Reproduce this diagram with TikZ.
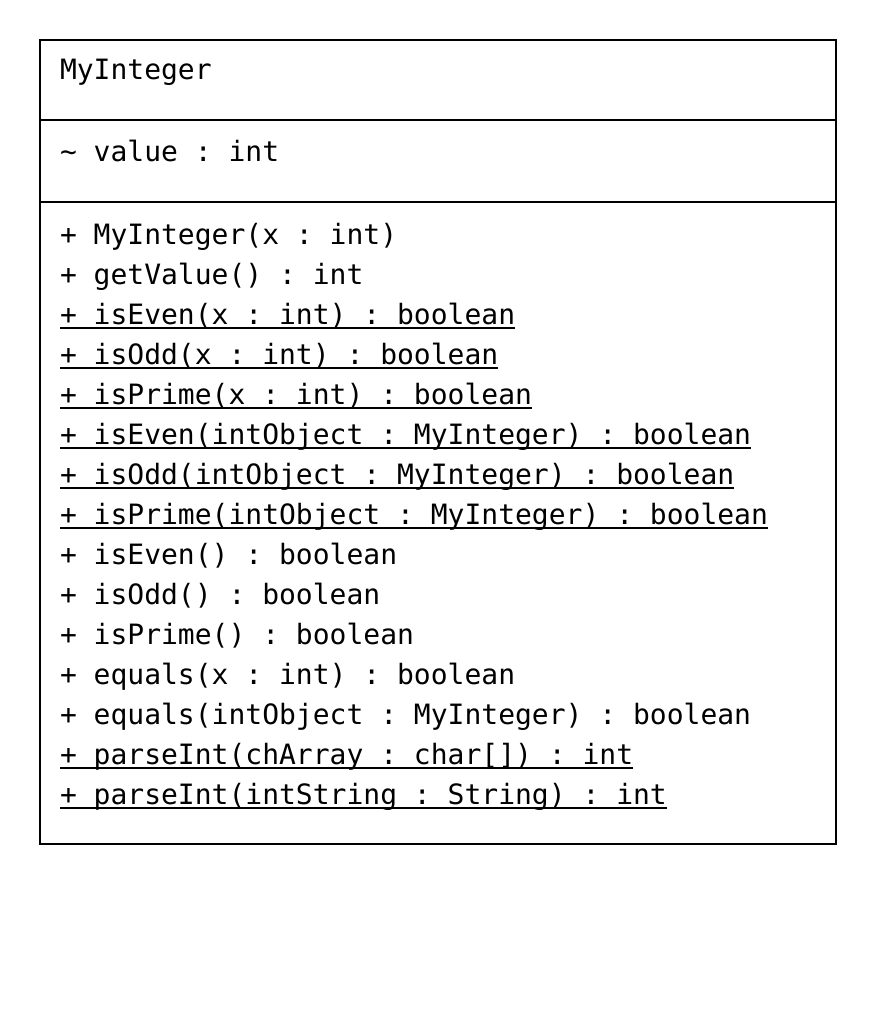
\documentclass[tikz,border=0pt]{standalone}
\usepackage{fontspec}
\setmonofont{DejaVu Sans Mono}
\begin{document}
\begin{tikzpicture}[x=1pt,y=-1pt,
  member/.style={anchor=base west,inner sep=0pt,outer sep=0pt,
    font=\ttfamily\fontsize{28}{40}\selectfont},
  frame/.style={draw=black,line width=2pt},
  ulline/.style={draw=black,line width=1.6pt}]
\useasboundingbox (0,0) rectangle (876,1016);
% class box and compartment dividers
\draw[frame] (40,40) rectangle (836,844);
\coordinate (d1l) at (40,120); \coordinate (d1r) at (836,120);
\coordinate (d2l) at (40,202); \coordinate (d2r) at (836,202);
\draw[frame] (d1l) -- (d1r);
\draw[frame] (d2l) -- (d2r);
% name and attribute
\node[member] (name) at (60,80) {MyInteger};
\node[member] (attr) at (60,162) {\string~ value : int};
% operations; static ones get underlined
\foreach \i/\t/\u in {
  1/{+ MyInteger(x : int)}/0,
  2/{+ getValue() : int}/0,
  3/{+ isEven(x : int) : boolean}/1,
  4/{+ isOdd(x : int) : boolean}/1,
  5/{+ isPrime(x : int) : boolean}/1,
  6/{+ isEven(intObject : MyInteger) : boolean}/1,
  7/{+ isOdd(intObject : MyInteger) : boolean}/1,
  8/{+ isPrime(intObject : MyInteger) : boolean}/1,
  9/{+ isEven() : boolean}/0,
  10/{+ isOdd() : boolean}/0,
  11/{+ isPrime() : boolean}/0,
  12/{+ equals(x : int) : boolean}/0,
  13/{+ equals(intObject : MyInteger) : boolean}/0,
  14/{+ parseInt(chArray : char[]) : int}/1,
  15/{+ parseInt(intString : String) : int}/1}{
  \node[member] (op\i) at (60,{244+40*(\i-1)}) {\t};
  \ifnum\u=1
    \draw[ulline] ([yshift=-4pt]op\i.base west) -- ([yshift=-4pt]op\i.base east);
  \fi
}
\end{tikzpicture}
\end{document}
